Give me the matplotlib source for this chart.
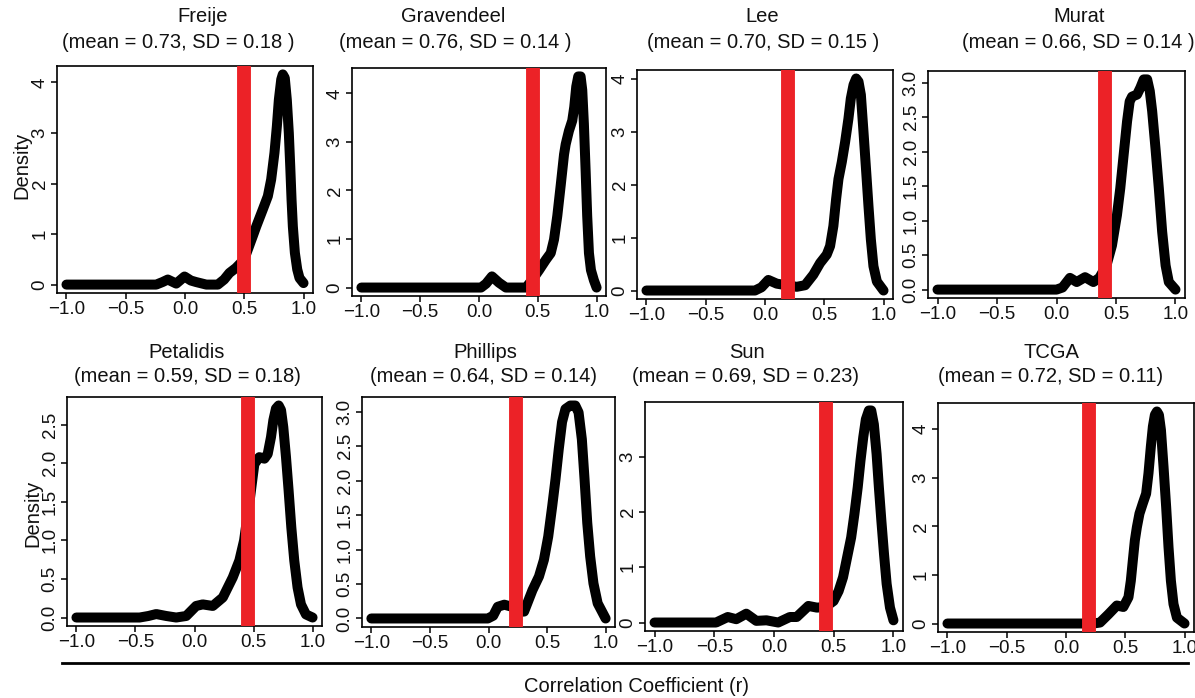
import matplotlib
matplotlib.use('Agg')
import matplotlib.pyplot as plt
from matplotlib.ticker import MultipleLocator, FormatStrFormatter, FixedLocator, FixedFormatter

plt.rcParams['font.family'] = ['Liberation Sans', 'DejaVu Sans']
plt.rcParams['axes.unicode_minus'] = True

# ---------------- data ----------------
names = ["Freije", "Gravendeel", "Lee", "Murat", "Petalidis", "Phillips", "Sun", "TCGA"]
means = ["0.73", "0.76", "0.70", "0.66", "0.59", "0.64", "0.69", "0.72"]
sds = ["0.18", "0.14", "0.15", "0.14", "0.18", "0.14", "0.23", "0.11"]
thresholds = [0.50, 0.455, 0.19, 0.41, 0.45, 0.235, 0.435, 0.19]

freije_x = [-1.0, -0.6, -0.243, -0.19, -0.145, -0.074, -0.004, 0.05, 0.094, 0.18, 0.277,
            0.33, 0.375, 0.43, 0.5, 0.572, 0.601, 0.657, 0.699, 0.727, 0.755, 0.775,
            0.792, 0.812, 0.825, 0.842, 0.859, 0.876, 0.888, 0.899, 0.91, 0.927,
            0.947, 0.966, 1.0]
freije_y = [0.0, 0.0, 0.0, 0.05, 0.10, 0.02, 0.16, 0.08, 0.05, 0.0, 0.0,
            0.10, 0.23, 0.33, 0.50, 0.96, 1.15, 1.49, 1.75, 2.08, 2.61, 3.13,
            3.66, 4.06, 4.16, 4.09, 3.66, 3.0, 2.34, 1.68, 1.15, 0.63,
            0.30, 0.13, 0.03]

gravendeel_x = [-1.0, -0.5, 0.017, 0.06, 0.11, 0.17, 0.229, 0.3, 0.4, 0.45, 0.511, 0.568,
                0.61, 0.638, 0.666, 0.695, 0.723, 0.737, 0.765, 0.793, 0.81, 0.827, 0.844,
                0.864, 0.878, 0.892, 0.907, 0.92, 0.935, 0.952, 0.977, 1.0]
gravendeel_y = [0.0, 0.0, 0.0, 0.08, 0.23, 0.1, 0.0, 0.0, 0.0, 0.15, 0.36, 0.57,
                0.71, 0.99, 1.48, 2.11, 2.74, 2.95, 3.23, 3.44, 3.72, 4.14, 4.35,
                4.35, 4.07, 3.37, 2.39, 1.48, 0.71, 0.36, 0.15, 0.0]

lee_x = [-1.0, -0.5, -0.085, -0.03, 0.028, 0.099, 0.18, 0.268, 0.338, 0.408, 0.465, 0.521,
         0.549, 0.577, 0.6, 0.62, 0.648, 0.676, 0.704, 0.724, 0.747, 0.769, 0.789,
         0.809, 0.831, 0.854, 0.873, 0.893, 0.915, 0.944, 1.0]
lee_y = [0.0, 0.0, 0.0, 0.06, 0.2, 0.13, 0.1, 0.07, 0.1, 0.3, 0.52, 0.68,
         0.84, 1.22, 1.73, 2.11, 2.43, 2.81, 3.25, 3.63, 3.89, 4.01, 3.95,
         3.7, 3.0, 2.24, 1.6, 0.97, 0.46, 0.17, 0.0]

murat_x = [-1.0, -0.5, 0.0, 0.05, 0.113, 0.17, 0.24, 0.31, 0.36, 0.42, 0.466, 0.508, 0.536,
           0.564, 0.593, 0.615, 0.635, 0.677, 0.705, 0.733, 0.762, 0.784, 0.804, 0.832,
           0.86, 0.888, 0.917, 0.944, 1.0]
murat_y = [0.0, 0.0, 0.0, 0.03, 0.17, 0.11, 0.18, 0.11, 0.17, 0.35, 0.64, 1.08, 1.47,
           1.95, 2.44, 2.73, 2.8, 2.83, 2.93, 3.05, 3.05, 2.88, 2.59, 2.05,
           1.47, 0.84, 0.35, 0.11, 0.0]

petalidis_x = [-1.0, -0.7, -0.465, -0.39, -0.324, -0.24, -0.155, -0.07, 0.014, 0.07, 0.155,
               0.24, 0.324, 0.38, 0.42, 0.47, 0.507, 0.549, 0.592, 0.62, 0.648, 0.668,
               0.69, 0.713, 0.733, 0.752, 0.775, 0.797, 0.82, 0.845, 0.873, 0.902,
               0.944, 1.0]
petalidis_y = [0.0, 0.0, 0.0, 0.02, 0.045, 0.02, 0.0, 0.02, 0.15, 0.17, 0.15,
               0.26, 0.52, 0.74, 1.0, 1.55, 1.99, 2.08, 2.06, 2.12, 2.34, 2.56,
               2.71, 2.75, 2.69, 2.47, 2.08, 1.65, 1.17, 0.74, 0.39, 0.17,
               0.04, 0.0]

phillips_x = [-1.0, -0.5, -0.006, 0.04, 0.079, 0.135, 0.2, 0.26, 0.304, 0.375, 0.431, 0.473,
              0.51, 0.544, 0.572, 0.6, 0.628, 0.657, 0.699, 0.741, 0.769, 0.797, 0.82,
              0.843, 0.868, 0.896, 0.932, 1.0]
phillips_y = [0.0, 0.0, 0.0, 0.04, 0.17, 0.2, 0.17, 0.1, 0.1, 0.41, 0.61, 0.85,
              1.19, 1.63, 2.02, 2.46, 2.85, 3.04, 3.09, 3.09, 2.99, 2.6, 2.02,
              1.39, 0.9, 0.51, 0.22, 0.0]

sun_x = [-1.0, -0.7, -0.485, -0.387, -0.316, -0.232, -0.148, -0.063, 0.035, 0.133, 0.19,
         0.288, 0.359, 0.43, 0.499, 0.541, 0.578, 0.612, 0.646, 0.673, 0.701, 0.724,
         0.747, 0.769, 0.794, 0.814, 0.836, 0.859, 0.878, 0.899, 0.921, 0.943, 0.971, 1.0]
sun_y = [0.0, 0.0, 0.0, 0.1, 0.06, 0.16, 0.03, 0.04, 0.0, 0.1, 0.1,
         0.3, 0.27, 0.28, 0.39, 0.57, 0.82, 1.18, 1.54, 1.96, 2.45, 2.93,
         3.35, 3.68, 3.84, 3.84, 3.59, 3.05, 2.45, 1.84, 1.24, 0.7, 0.27, 0.04]

tcga_x = [-1.0, -0.5, 0.0, 0.23, 0.287, 0.358, 0.429, 0.484, 0.527, 0.547, 0.564, 0.581,
          0.598, 0.62, 0.648, 0.676, 0.696, 0.716, 0.733, 0.75, 0.767, 0.784, 0.801,
          0.823, 0.845, 0.865, 0.885, 0.907, 0.936, 1.0]
tcga_y = [0.0, 0.0, 0.0, 0.0, 0.02, 0.19, 0.37, 0.34, 0.54, 0.88, 1.3, 1.71,
          1.98, 2.26, 2.47, 2.67, 3.09, 3.64, 4.05, 4.29, 4.36, 4.29, 3.98,
          3.22, 2.4, 1.57, 0.88, 0.4, 0.12, 0.0]

curves_x = [freije_x, gravendeel_x, lee_x, murat_x, petalidis_x, phillips_x, sun_x, tcga_x]
curves_y = [freije_y, gravendeel_y, lee_y, murat_y, petalidis_y, phillips_y, sun_y, tcga_y]

x_ticks = [-1.0, -0.5, 0.0, 0.5, 1.0]
x_tick_labels = ["\u22121.0", "\u22120.5", "0.0", "0.5", "1.0"]

# ---------------- layout (pixels) ----------------
W, H = 1195, 698
boxes = [(57, 313, 66, 293), (352, 606, 68, 296), (637, 893, 70, 299), (928, 1185, 71, 298),
         (67, 322, 397, 626), (362, 615, 397, 627), (645, 903, 402, 631), (938, 1194, 403, 632)]
title_pos = [(203, 178, 17, 43), (453, 455, 17, 43), (762, 763, 17, 43), (1079, 1078, 17, 43),
             (187, 187, 352, 377), (485, 483, 352, 377), (747, 746, 352, 377), (1051, 1051, 352, 377)]
ystep = [1, 1, 1, 0.5, 0.5, 0.5, 1, 1]
close_paren = [" )", " )", " )", " )", ")", ")", ")", ")"]

RED = "#EC2227"

fig = plt.figure(figsize=(W / 100, H / 100), dpi=100)


def fx(px):
    return px / W


def fy(py):
    return 1 - py / H


for i in range(8):
    l, r, t, b = boxes[i]
    ax = fig.add_axes([fx(l), fy(b), fx(r) - fx(l), fy(t) - fy(b)])
    ax.plot(curves_x[i], curves_y[i], color='black', lw=7.2,
            solid_capstyle='round', solid_joinstyle='round', zorder=2)
    ax.axvline(thresholds[i], color=RED, lw=10, zorder=3)
    ax.margins(x=0.04, y=0.04)
    ax.xaxis.set_major_locator(FixedLocator(x_ticks))
    ax.xaxis.set_major_formatter(FixedFormatter(x_tick_labels))
    ax.yaxis.set_major_locator(MultipleLocator(ystep[i]))
    if ystep[i] == 1:
        ax.yaxis.set_major_formatter(FormatStrFormatter('%d'))
    else:
        ax.yaxis.set_major_formatter(FormatStrFormatter('%.1f'))
    ax.tick_params(axis='both', direction='out', length=4, width=1.1, labelsize=13.5,
                   color='black', labelcolor='#111111', pad=2)
    for lab in ax.get_yticklabels():
        lab.set_rotation(90)
        lab.set_va('center')
    for s in ax.spines.values():
        s.set_linewidth(1.2)
    tx1, tx2, ty1, ty2 = title_pos[i]
    fig.text(fx(tx1), fy(ty1), names[i], ha='center', va='center', fontsize=14.5, color='#111111')
    fig.text(fx(tx2), fy(ty2), "(mean = %s, SD = %s%s" % (means[i], sds[i], close_paren[i]),
             ha='center', va='center', fontsize=14.5, color='#111111')

fig.text(fx(22), fy(165), "Density", rotation=90, ha='center', va='center', fontsize=14.5, color='#111111')
fig.text(fx(33), fy(513), "Density", rotation=90, ha='center', va='center', fontsize=14.5, color='#111111')

fig.add_artist(plt.Line2D([fx(62), fx(1188)], [fy(663), fy(663)], color='black', lw=2))
fig.text(fx(636), fy(686), "Correlation Coefficient (r)", ha='center', va='center',
         fontsize=14.5, color='#111111')

fig.savefig("out.png", dpi=100)
